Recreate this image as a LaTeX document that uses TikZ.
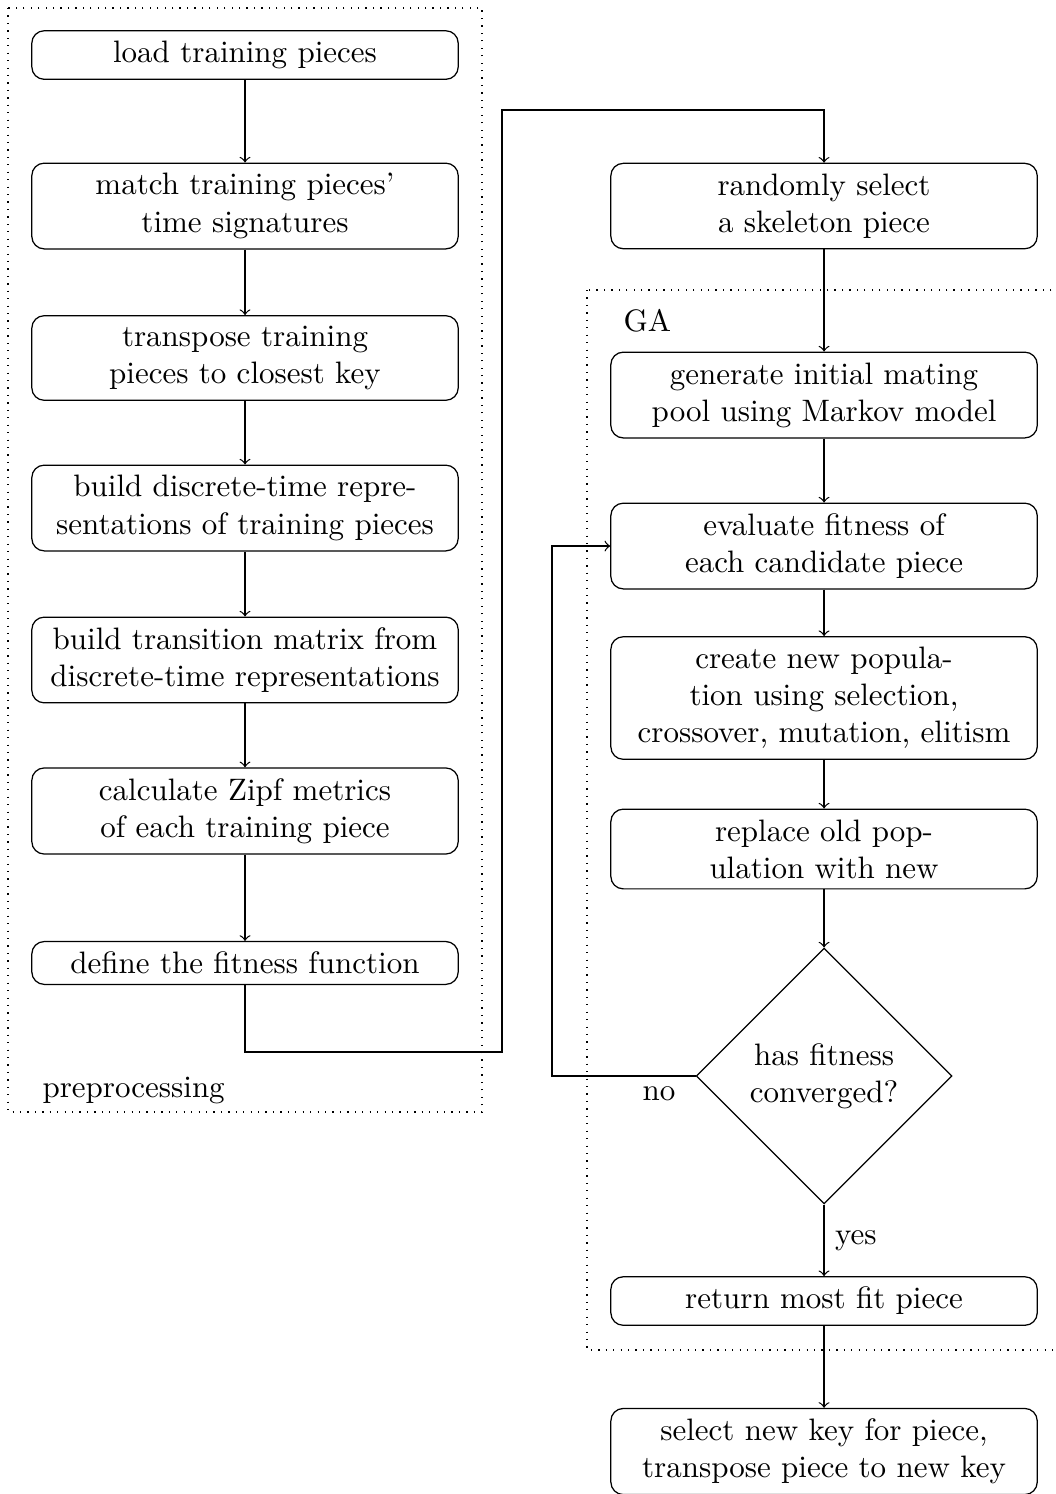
\documentclass[tikz,border=0pt]{standalone}
\usepackage{amsmath,amssymb}
\usetikzlibrary{shapes.geometric}

\begin{document}
\begin{tikzpicture}[
    stepbox/.style={draw, rounded corners, align=center, text width=4.6cm},
    decision/.style={draw, diamond, aspect=1, align=center, inner sep=0pt,
                     minimum width=2.9cm, minimum height=2.9cm},
    area/.style={dotted}
  ]
    \useasboundingbox (0,0) rectangle (11.962,-16.939);
    % preprocessing column
    \node[stepbox] (load)   at (2.778, -0.624) {load training pieces};
    \node[stepbox] (match)  at (2.778, -2.336) {match training pieces'\\ time signatures};
    \node[stepbox] (trans)  at (2.778, -4.059) {transpose training\\ pieces to closest key};
    \node[stepbox] (disc)   at (2.778, -5.760) {build discrete-time repre-\\sentations of training pieces};
    \node[stepbox] (matrix) at (2.778, -7.483) {build transition matrix from\\ discrete-time representations};
    \node[stepbox] (zipf)   at (2.778, -9.195) {calculate Zipf metrics\\ of each training piece};
    \node[stepbox] (fitfn)  at (2.778,-10.918) {define the fitness function};
    % GA column
    \node[stepbox] (skel)   at (9.343, -2.336) {randomly select\\ a skeleton piece};
    \node[stepbox] (pool)   at (9.343, -4.479) {generate initial mating\\ pool using Markov model};
    \node[stepbox] (eval)   at (9.343, -6.191) {evaluate fitness of\\ each candidate piece};
    \node[stepbox] (newpop) at (9.343, -7.914) {create new popula-\\tion using selection,\\ crossover, mutation, elitism};
    \node[stepbox] (repl)   at (9.343, -9.626) {replace old pop-\\ulation with new};
    \node[decision] (conv)  at (9.343,-12.200) {has fitness\\ converged?};
    \node[stepbox] (best)   at (9.343,-14.751) {return most fit piece};
    \node[stepbox] (newkey) at (9.343,-16.457) {select new key for piece,\\ transpose piece to new key};
    % frames
    \draw[area] (0.091,-0.091) rectangle (5.465,-12.608);
    \node[anchor=base west] (prelabel) at (0.358,-12.438) {preprocessing};
    \draw[area] (6.655,-3.288) rectangle (12.2,-15.306);
    \node[anchor=base west] (galabel) at (6.946,-3.764) {GA};
    % arrows
    \draw[->] (load) -- (match);
    \draw[->] (match) -- (trans);
    \draw[->] (trans) -- (disc);
    \draw[->] (disc) -- (matrix);
    \draw[->] (matrix) -- (zipf);
    \draw[->] (zipf) -- (fitfn);
    \coordinate (jumpA) at (5.692,-11.928);
    \coordinate (jumpB) at (9.343,-1.247);
    \draw[->] (fitfn.south) |- (jumpA) |- (jumpB) -- (skel.north);
    \draw[->] (skel) -- (pool);
    \draw[->] (pool) -- (eval);
    \draw[->] (eval) -- (newpop);
    \draw[->] (newpop) -- (repl);
    \draw[->] (repl) -- (conv);
    \draw[->] (conv) -- node[right] (yeslabel) {yes} (best);
    \draw[->] (best) -- (newkey);
    \coordinate (back) at (6.259,0);
    \draw[->] (conv.west) node[below left, xshift=-3pt] (nolabel) {no}
        -- (conv.west -| back) |- (eval.west);
  \end{tikzpicture}
\end{document}
